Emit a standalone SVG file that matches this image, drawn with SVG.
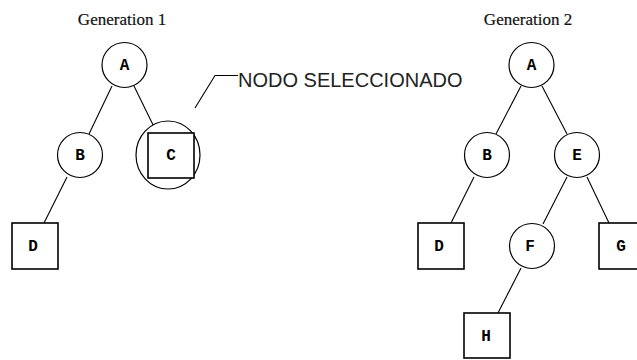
<svg xmlns="http://www.w3.org/2000/svg" width="637" height="360" viewBox="0 0 637 360">
  <style>
    .bg { fill: #ffffff; }
    .circ { fill: #ffffff; stroke: #000; stroke-width: 1.2; }
    .box { fill: #ffffff; stroke: #000; stroke-width: 1.6; }
    .edge { stroke: #000; stroke-width: 1.1; fill: none; }
    .lbl { font-family: "Courier New", "Liberation Serif", serif; font-size: 16px; font-weight: bold; text-anchor: middle; fill: #000; }
    .title { font-family: "Liberation Serif", "Times New Roman", serif; font-size: 17px; text-anchor: middle; fill: #111; stroke: #111; stroke-width: 0.2; }
    .note { font-family: "Liberation Sans", Arial, sans-serif; font-size: 20px; fill: #222; }
  </style>
  <rect class="bg" width="637" height="360"/>

  <!-- headings -->
  <text class="title" x="122" y="25">Generation 1</text>
  <text class="title" x="528" y="25">Generation 2</text>

  <!-- connectors -->
  <g id="edges">
    <!-- generation 1 -->
    <line class="edge" x1="112" y1="86" x2="89" y2="134"/>
    <line class="edge" x1="134" y1="86" x2="157" y2="133"/>
    <line class="edge" x1="67" y1="177" x2="44" y2="223"/>
    <!-- generation 2 -->
    <line class="edge" x1="521" y1="86" x2="496" y2="134"/>
    <line class="edge" x1="542" y1="86" x2="567" y2="134"/>
    <line class="edge" x1="474" y1="177" x2="451" y2="223"/>
    <line class="edge" x1="567" y1="177" x2="543" y2="224"/>
    <line class="edge" x1="587" y1="177" x2="609" y2="223"/>
    <line class="edge" x1="521" y1="268" x2="498" y2="313"/>
    <!-- callout -->
    <polyline class="edge" points="195,108 215,75.5 238,75.5"/>
  </g>

  <text class="note" x="238" y="86.5">NODO SELECCIONADO</text>

  <!-- generation 1 nodes -->
  <g id="g1-A"><circle class="circ" cx="124.5" cy="65" r="22.5"/><text class="lbl" x="124.5" y="70">A</text></g>
  <g id="g1-B"><circle class="circ" cx="80" cy="155" r="22.5"/><text class="lbl" x="80" y="160">B</text></g>
  <g id="g1-C">
    <ellipse class="circ" cx="168" cy="155" rx="32" ry="34"/>
    <rect class="box" x="148" y="133" width="46" height="45"/>
    <text class="lbl" x="171" y="160">C</text>
  </g>
  <g id="g1-D"><rect class="box" x="12" y="223" width="46" height="46"/><text class="lbl" x="33" y="251">D</text></g>

  <!-- generation 2 nodes -->
  <g id="g2-A"><circle class="circ" cx="531.5" cy="65" r="22.5"/><text class="lbl" x="531.5" y="70">A</text></g>
  <g id="g2-B"><circle class="circ" cx="487" cy="155" r="22.5"/><text class="lbl" x="487" y="160">B</text></g>
  <g id="g2-E"><circle class="circ" cx="577" cy="155" r="22.5"/><text class="lbl" x="577" y="160">E</text></g>
  <g id="g2-D"><rect class="box" x="418" y="223" width="46" height="46"/><text class="lbl" x="439" y="251">D</text></g>
  <g id="g2-F"><circle class="circ" cx="532" cy="246" r="22.5"/><text class="lbl" x="530" y="251">F</text></g>
  <g id="g2-G"><rect class="box" x="599" y="223" width="46" height="46"/><text class="lbl" x="621" y="251">G</text></g>
  <g id="g2-H"><rect class="box" x="464" y="313" width="46" height="45"/><text class="lbl" x="486" y="341">H</text></g>
</svg>
